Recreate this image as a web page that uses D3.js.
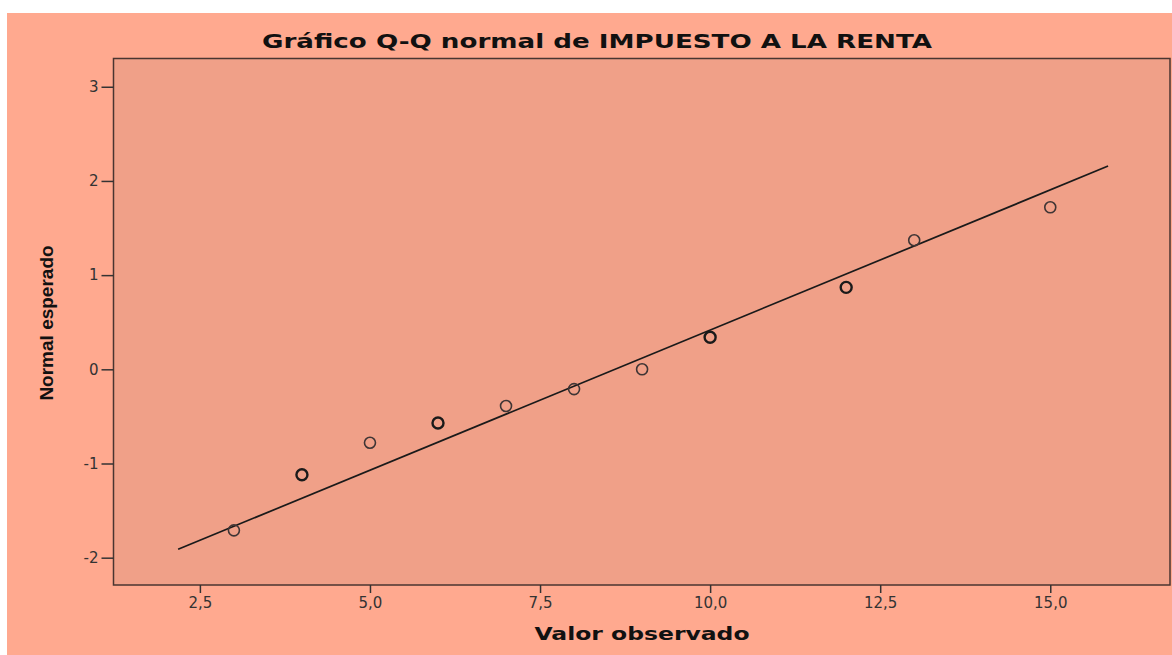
<!DOCTYPE html>
<html>
<head>
<meta charset="utf-8">
<script src="https://cdn.jsdelivr.net/npm/d3@7"></script>
<style>
  body { margin: 0; background: #fff; }
  text { font-family: "DejaVu Sans", Verdana, sans-serif; }
</style>
</head>
<body>
<div id="chart"></div>
<script>
// observed values and expected normal quantiles
const observed = [3, 4, 5, 6, 7, 8, 9, 10, 12, 13, 15];
const expected = [-1.71, -1.12, -0.78, -0.57, -0.39, -0.21, 0.0, 0.34, 0.87, 1.37, 1.72];
const counts   = [1, 2, 1, 2, 1, 1, 1, 2, 2, 1, 1];

// reference line (mean / sd of the sample)
const lineMean = 8.6, lineSd = 3.36;
const lineRange = [2.18, 15.85];

const xTicks = [2.5, 5.0, 7.5, 10.0, 12.5, 15.0];
const yTicks = [-2, -1, 0, 1, 2, 3];
const xDomain = [1.23, 16.76];
const yDomain = [-2.29, 3.30];

const canvWidth = 1172, canvHeight = 655;
const svg = d3.select("#chart").append("svg")
    .attr("width", canvWidth)
    .attr("height", canvHeight);

// outer panel
svg.append("rect")
    .attr("x", 7).attr("y", 13)
    .attr("width", canvWidth - 7).attr("height", canvHeight - 13)
    .attr("fill", "#ffa98f");

const margin = {top: 58.5, right: 2, bottom: 70, left: 113.5};
const width = canvWidth - margin.left - margin.right;
const height = canvHeight - margin.top - margin.bottom;

const g = svg.append("g")
    .attr("transform", "translate(" + margin.left + "," + margin.top + ")");

g.append("rect")
    .attr("width", width).attr("height", height)
    .attr("fill", "#f0a088")
    .attr("stroke", "#4a3530")
    .attr("stroke-width", 1.5);

const xScale = d3.scaleLinear().domain(xDomain).range([0, width]);
const yScale = d3.scaleLinear().domain(yDomain).range([height, 0]);

const fmt = d => d3.format(".1f")(d).replace(".", ",");

const xAxis = g.append("g")
    .attr("transform", "translate(0," + height + ")")
    .call(d3.axisBottom(xScale).tickValues(xTicks).tickFormat(fmt).tickSize(8).tickPadding(4));
const yAxis = g.append("g")
    .call(d3.axisLeft(yScale).tickValues(yTicks).tickFormat(d3.format("d")).tickSize(12).tickPadding(3));

[xAxis, yAxis].forEach(ax => {
  ax.select(".domain").remove();
  ax.selectAll(".tick line").attr("stroke", "#333").attr("stroke-width", 1.5);
  ax.selectAll(".tick text")
    .attr("fill", "#333")
    .style("font-family", "DejaVu Sans, Verdana, sans-serif")
    .style("font-size", "15px");
});
yAxis.selectAll(".tick text").text(d => d < 0 ? "-" + Math.abs(d) : d);

// reference line
g.append("line")
    .attr("x1", xScale(lineRange[0]))
    .attr("y1", yScale((lineRange[0] - lineMean) / lineSd))
    .attr("x2", xScale(lineRange[1]))
    .attr("y2", yScale((lineRange[1] - lineMean) / lineSd))
    .attr("stroke", "#1a1a1a")
    .attr("stroke-width", 1.7);

// points
g.selectAll("circle.pt")
  .data(observed.map((d, i) => ({x: d, y: expected[i], n: counts[i]})))
  .enter().append("circle")
    .attr("class", "pt")
    .attr("cx", d => xScale(d.x))
    .attr("cy", d => yScale(d.y))
    .attr("r", 5.5)
    .attr("fill", "none")
    .attr("stroke", d => d.n > 1 ? "#1a1a1a" : "#3f3535")
    .attr("stroke-width", d => d.n > 1 ? 2.4 : 1.6);

// title
svg.append("text")
    .attr("x", 597).attr("y", 48)
    .attr("text-anchor", "middle")
    .attr("textLength", 670)
    .attr("lengthAdjust", "spacingAndGlyphs")
    .style("font-size", "19px")
    .style("font-weight", "bold")
    .attr("fill", "#111")
    .text("Gráfico Q-Q normal de IMPUESTO A LA RENTA");

// x label
svg.append("text")
    .attr("x", 642).attr("y", 640)
    .attr("text-anchor", "middle")
    .attr("textLength", 215)
    .attr("lengthAdjust", "spacingAndGlyphs")
    .style("font-size", "18px")
    .style("font-weight", "bold")
    .attr("fill", "#111")
    .text("Valor observado");

// y label
svg.append("text")
    .attr("transform", "translate(53,323) rotate(-90)")
    .attr("text-anchor", "middle")
    .style("font-family", "'Liberation Sans Narrow', 'Liberation Sans', sans-serif")
    .style("font-size", "19px")
    .style("font-weight", "bold")
    .attr("fill", "#111")
    .text("Normal esperado");
</script>
</body>
</html>
